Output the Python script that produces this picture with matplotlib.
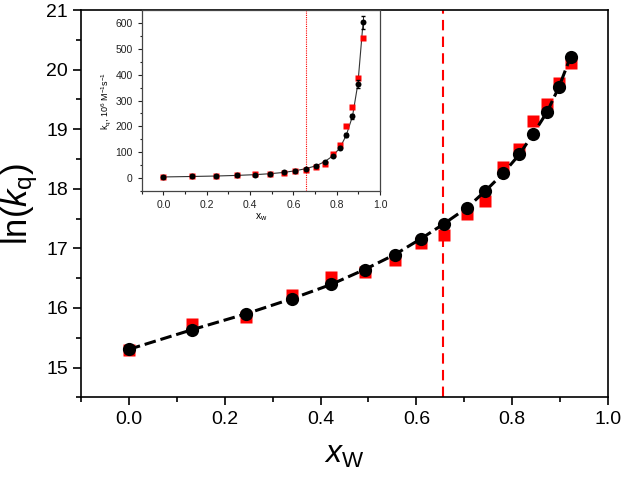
import numpy as np
import matplotlib
matplotlib.use('Agg')
import matplotlib.pyplot as plt

plt.rcParams['font.family'] = 'Liberation Sans'
plt.rcParams['mathtext.fontset'] = 'custom'
plt.rcParams['mathtext.rm'] = 'Liberation Sans'
plt.rcParams['mathtext.it'] = 'Liberation Sans:italic'

# mole fraction of water
x_w = [0.0, 0.132, 0.244, 0.340, 0.422, 0.492, 0.555, 0.609, 0.658, 0.705,
       0.744, 0.781, 0.815, 0.844, 0.873, 0.898, 0.922]

# ln(kq), black circles and red squares
lnkq_black = [15.305, 15.635, 15.90, 16.154, 16.394, 16.645, 16.896, 17.159, 17.415,
              17.678, 17.963, 18.258, 18.576, 18.923, 19.291, 19.716, 20.218]
lnkq_red = [15.30, 15.735, 15.85, 16.21, 16.52, 16.60, 16.81, 17.09, 17.22,
            17.58, 17.79, 18.36, 18.66, 19.13, 19.43, 19.77, 20.11]

# kq in 10^6 M^-1 s^-1 (inset)
kq_black = [4.4, 6.2, 8.0, 10.4, 13.2, 16.9, 21.8, 28.3, 36.6,
            47.6, 63.3, 85.0, 116.8, 165.2, 238.8, 365.2, 603.4]
kq_red = [4.4, 6.8, 7.7, 11.0, 15.0, 16.2, 20.0, 26.4, 30.1,
          43.1, 53.2, 94.1, 127.0, 203.3, 274.3, 385.5, 541.6]
kq_black_err = [1, 1, 1, 1, 1.5, 1.5, 2, 2, 3, 3, 4, 5, 6, 8, 10, 15, 25]

x_transition = 0.655

fig = plt.figure(figsize=(6.25, 4.78), dpi=100)
ax = fig.add_axes([0.1296, 0.1688, 0.8432, 0.8102])

ax.plot(x_w, lnkq_red, 's', color='#ff0000', markersize=8, mec='none', zorder=3)
ax.plot(x_w, lnkq_black, 'o', color='black', markersize=9.5, mec='none', zorder=4,
        ls=(0, (3.8, 1.6)), lw=2.2)
ax.axvline(x_transition, color='#ff0000', ls=(0, (5, 3)), lw=1.5, zorder=2)

ax.set_xlim(-0.1, 1.0)
ax.set_ylim(14.5, 21)
ax.set_xticks(np.arange(0, 1.01, 0.2))
ax.set_xticks(np.arange(-0.1, 1.01, 0.1), minor=True)
ax.set_yticks(np.arange(15, 21.1, 1))
ax.set_yticks(np.arange(14.5, 21.1, 0.5), minor=True)
ax.tick_params(which='both', direction='out', labelsize=14, width=1.2)
ax.tick_params(which='major', length=6)
ax.tick_params(which='minor', length=3.5)
for s in ax.spines.values():
    s.set_linewidth(1.2)
ax.set_xlabel(r'$x_{\mathrm{W}}$', fontsize=23, labelpad=9)
ax.set_ylabel(r'$\mathrm{ln(}k_{\mathrm{q}}\mathrm{)}$', fontsize=25, labelpad=4)

# inset
ins = fig.add_axes([0.2267, 0.6004, 0.3813, 0.3786])
ins.plot(x_w, kq_red, 's', color='#ff0000', markersize=4.3, mec='none', zorder=3)
ins.errorbar(x_w, kq_black, yerr=kq_black_err, fmt='o', color='black', markersize=4.3,
             mec='none', ecolor='black', elinewidth=0.6, capsize=1.5, zorder=4)
ins.plot(x_w, kq_black, '-', color='#333333', lw=0.8, zorder=2)
ins.axvline(0.66, color='#ff0000', ls=(0, (1, 1)), lw=0.8, zorder=1)
ins.set_xlim(-0.1, 1.0)
ins.set_ylim(-50, 650)
ins.set_xticks(np.arange(0, 1.01, 0.2))
ins.set_xticks(np.arange(-0.1, 1.01, 0.1), minor=True)
ins.set_yticks(np.arange(0, 601, 100))
ins.set_yticks(np.arange(-50, 651, 50), minor=True)
ins.tick_params(which='both', direction='out', labelsize=7.5, width=0.8, colors='#222222')
ins.tick_params(which='major', length=3)
ins.tick_params(which='minor', length=1.8)
for s in ins.spines.values():
    s.set_linewidth(0.9)
    s.set_color('#444444')
ins.set_xlabel(r'x$_{\mathrm{w}}$', fontsize=7.5, labelpad=1)
ins.set_ylabel(r'k$_{\mathrm{q}}$, 10$^{6}$ M$^{-1}$s$^{-1}$', fontsize=6.5, labelpad=2)

fig.savefig('out.png', dpi=100)
